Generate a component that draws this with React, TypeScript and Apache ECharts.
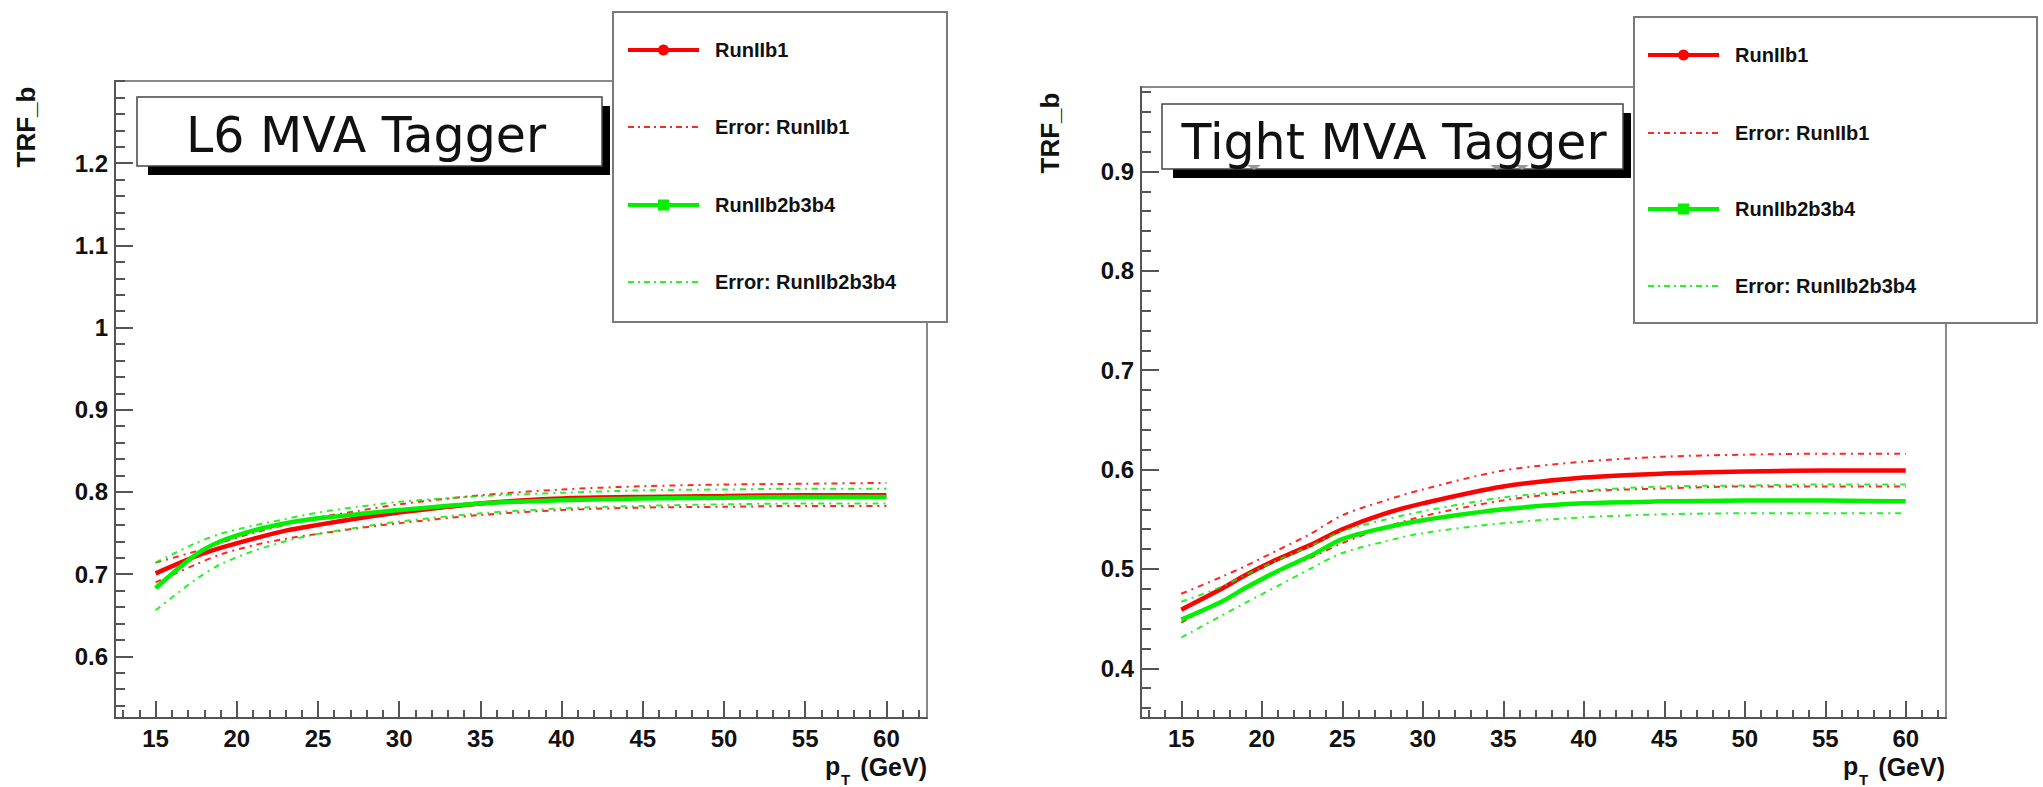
import React, { useEffect, useRef } from "react";
import * as echarts from "echarts";

// ---------- data ----------
const PT = [15, 17.5, 19, 21, 23, 25, 27.5, 30, 35, 40, 45, 50, 55, 60];

// L6 MVA Tagger
const L6_RUN1 = [0.701, 0.722, 0.732, 0.743, 0.753, 0.760, 0.768, 0.775, 0.786, 0.792, 0.794, 0.795, 0.796, 0.796];
const L6_RUN1_UP = [0.714, 0.728, 0.738, 0.750, 0.760, 0.769, 0.777, 0.785, 0.796, 0.803, 0.807, 0.809, 0.810, 0.811];
const L6_RUN1_LO = [0.690, 0.712, 0.724, 0.735, 0.743, 0.749, 0.756, 0.762, 0.772, 0.778, 0.781, 0.782, 0.783, 0.783];
const L6_RUN234 = [0.683, 0.724, 0.740, 0.753, 0.762, 0.768, 0.773, 0.778, 0.786, 0.790, 0.792, 0.793, 0.794, 0.794];
const L6_RUN234_UP = [0.714, 0.738, 0.749, 0.759, 0.767, 0.775, 0.782, 0.788, 0.795, 0.799, 0.802, 0.803, 0.804, 0.804];
const L6_RUN234_LO = [0.656, 0.694, 0.712, 0.728, 0.740, 0.749, 0.757, 0.764, 0.774, 0.780, 0.783, 0.785, 0.786, 0.786];

// Tight MVA Tagger
const TI_RUN1 = [0.459, 0.480, 0.494, 0.510, 0.524, 0.540, 0.555, 0.566, 0.583, 0.592, 0.596, 0.598, 0.599, 0.599];
const TI_RUN1_UP = [0.475, 0.492, 0.503, 0.519, 0.535, 0.554, 0.568, 0.580, 0.599, 0.608, 0.613, 0.615, 0.616, 0.616];
const TI_RUN1_LO = [0.446, 0.468, 0.482, 0.498, 0.511, 0.526, 0.541, 0.553, 0.569, 0.578, 0.581, 0.583, 0.583, 0.583];
const TI_RUN234 = [0.449, 0.467, 0.481, 0.498, 0.513, 0.530, 0.541, 0.549, 0.560, 0.566, 0.568, 0.569, 0.569, 0.568];
const TI_RUN234_UP = [0.467, 0.482, 0.494, 0.509, 0.523, 0.538, 0.549, 0.558, 0.572, 0.579, 0.583, 0.584, 0.585, 0.585];
const TI_RUN234_LO = [0.431, 0.453, 0.466, 0.483, 0.500, 0.516, 0.527, 0.536, 0.546, 0.552, 0.555, 0.556, 0.556, 0.556];

const X_MAJOR = [15, 20, 25, 30, 35, 40, 45, 50, 55, 60];
const X_MINOR = [13, 14, 16, 17, 18, 19, 21, 22, 23, 24, 26, 27, 28, 29, 31, 32, 33, 34, 36, 37, 38, 39, 41, 42, 43, 44, 46, 47, 48, 49, 51, 52, 53, 54, 56, 57, 58, 59, 61, 62];
const L6_Y_MAJOR = [0.6, 0.7, 0.8, 0.9, 1.0, 1.1, 1.2];
const TI_Y_MAJOR = [0.4, 0.5, 0.6, 0.7, 0.8, 0.9];

const LEGEND_NAMES = ["RunIIb1", "Error: RunIIb1", "RunIIb2b3b4", "Error: RunIIb2b3b4"];
const TITLES = ["L6 MVA Tagger", "Tight MVA Tagger"];
const Y_TITLE = "TRF_b";

const RED = "#ff0000";
const GREEN = "#00f000";

function minorY(min: number, max: number, majors: number[]) {
  const out: number[] = [];
  for (let k = Math.ceil(min / 0.02 - 1e-6); k * 0.02 <= max + 1e-9; k++) {
    const v = +(k * 0.02).toFixed(2);
    if (!majors.some((m) => Math.abs(m - v) < 1e-6)) out.push(v);
  }
  return out;
}

const pairs = (ys: number[]) => PT.map((x, i) => [x, ys[i]]);

const LABEL_FONT = '"Liberation Sans", Arial, sans-serif';

export default function App() {
  const ref = useRef<HTMLDivElement>(null);
  useEffect(() => {
    document.body.style.margin = "0";
    const chart = echarts.init(ref.current!, null, { renderer: "svg" });

    const panels = [
      {
        grid: { left: 115, top: 81, width: 812, height: 637 },
        ymin: 0.525, ymax: 1.3, ymajor: L6_Y_MAJOR,
        data: [L6_RUN1, L6_RUN1_UP, L6_RUN1_LO, L6_RUN234, L6_RUN234_UP, L6_RUN234_LO],
        legend: { x: 613, y: 12, w: 334, h: 310, items: [50, 127, 205, 282], l1: 628, l2: 699, tx: 715 },
        title: { x: 137, y: 97, w: 465, h: 69, text: TITLES[0], cx: 366 },
        marks: [] as number[],
        ytitle: { x: 26, y: 127 },
        xname: { p: 825, end: 927 },
      },
      {
        grid: { left: 1141, top: 87, width: 805, height: 631 },
        ymin: 0.35, ymax: 0.985, ymajor: TI_Y_MAJOR,
        data: [TI_RUN1, TI_RUN1_UP, TI_RUN1_LO, TI_RUN234, TI_RUN234_UP, TI_RUN234_LO],
        legend: { x: 1634, y: 17, w: 403, h: 306, items: [55, 133, 209, 286], l1: 1648, l2: 1719, tx: 1735 },
        title: { x: 1162, y: 104, w: 461, h: 65, text: TITLES[1], cx: 1394 },
        marks: [1254, 1497, 1522],
        ytitle: { x: 1050, y: 133 },
        xname: { p: 1843, end: 1945 },
      },
    ];

    const grids: any[] = [];
    const xAxes: any[] = [];
    const yAxes: any[] = [];
    const series: any[] = [];
    const graphics: any[] = [];

    panels.forEach((p, gi) => {
      grids.push({ ...p.grid, show: true, borderColor: "#8a8a8a", borderWidth: 2, backgroundColor: "transparent" });
      const lab = { fontFamily: LABEL_FONT, fontWeight: "bold", fontSize: 24, color: "#111" };
      xAxes.push({
        type: "value", gridIndex: gi, min: 12.5, max: 62.5, position: "bottom", offset: 0,
        axisLine: { show: true, lineStyle: { color: "#555", width: 2 } },
        axisTick: { show: true, inside: true, length: 17, customValues: X_MAJOR, lineStyle: { color: "#555", width: 2 } },
        axisLabel: { show: true, customValues: X_MAJOR, margin: 8, ...lab },
        splitLine: { show: false },
      });
      xAxes.push({
        type: "value", gridIndex: gi, min: 12.5, max: 62.5, position: "bottom", offset: 0,
        axisLine: { show: false },
        axisTick: { show: true, inside: true, length: 8, customValues: X_MINOR, lineStyle: { color: "#555", width: 2 } },
        axisLabel: { show: false },
        splitLine: { show: false },
      });
      yAxes.push({
        type: "value", gridIndex: gi, min: p.ymin, max: p.ymax, position: "left", offset: 0,
        axisLine: { show: true, lineStyle: { color: "#555", width: 2 } },
        axisTick: { show: true, inside: true, length: 18, customValues: p.ymajor, lineStyle: { color: "#555", width: 2 } },
        axisLabel: {
          show: true, customValues: p.ymajor, margin: 7, ...lab,
          formatter: (v: number) => String(+v.toFixed(2)),
        },
        splitLine: { show: false },
      });
      yAxes.push({
        type: "value", gridIndex: gi, min: p.ymin, max: p.ymax, position: "left", offset: 0,
        axisLine: { show: false },
        axisTick: { show: true, inside: true, length: 10, customValues: minorY(p.ymin, p.ymax, p.ymajor), lineStyle: { color: "#555", width: 2 } },
        axisLabel: { show: false },
        splitLine: { show: false },
      });

      const colors = [RED, RED, RED, GREEN, GREEN, GREEN];
      const names = [LEGEND_NAMES[0], LEGEND_NAMES[1], LEGEND_NAMES[1], LEGEND_NAMES[2], LEGEND_NAMES[3], LEGEND_NAMES[3]];
      p.data.forEach((ys, si) => {
        const main = si === 0 || si === 3;
        series.push({
          type: "line",
          name: names[si],
          xAxisIndex: gi * 2,
          yAxisIndex: gi * 2,
          data: pairs(ys),
          showSymbol: false,
          smooth: 0.3,
          z: main ? 3 + si : 2 + si,
          lineStyle: main
            ? { color: colors[si], width: 4.5 }
            : { color: colors[si], width: 2, type: [6, 5, 2, 5], opacity: 0.85 },
          itemStyle: { color: colors[si] },
          silent: true,
        });
      });

      // title box with shadow
      const t = p.title;
      graphics.push({
        type: "rect", z: 50,
        shape: { x: t.x + 11, y: t.y + 9, width: t.w - 3, height: t.h },
        style: { fill: "#000" },
      });
      graphics.push({
        type: "rect", z: 51,
        shape: { x: t.x, y: t.y, width: t.w, height: t.h },
        style: { fill: "#fff", stroke: "#444", lineWidth: 1.5 },
      });
      p.marks.forEach((mx) => {
        graphics.push({
          type: "polygon", z: 52,
          shape: { points: [[mx - 7, t.y + t.h - 4], [mx + 7, t.y + t.h - 4], [mx, t.y + t.h + 1]] },
          style: { fill: "#999" },
        });
      });
      graphics.push({
        type: "text", z: 52, x: t.cx, y: t.y + 38,
        style: {
          text: t.text, font: '49px "DejaVu Sans", sans-serif', fill: "#111",
          align: "center", verticalAlign: "middle", textAlign: "center", textVerticalAlign: "middle",
        },
      });

      // legend box
      const L = p.legend;
      graphics.push({
        type: "rect", z: 60,
        shape: { x: L.x, y: L.y, width: L.w, height: L.h },
        style: { fill: "#fff", stroke: "#7a7a7a", lineWidth: 2 },
      });
      LEGEND_NAMES.forEach((nm, i) => {
        const y = L.items[i];
        const col = i < 2 ? RED : GREEN;
        const main = i % 2 === 0;
        graphics.push({
          type: "line", z: 61,
          shape: { x1: L.l1, y1: y, x2: L.l2, y2: y },
          style: main
            ? { stroke: col, lineWidth: 4 }
            : { stroke: col, lineWidth: 2, lineDash: [6, 4, 2, 4], opacity: 0.85 },
        });
        if (main) {
          const cx = (L.l1 + L.l2) / 2;
          if (i === 0) {
            graphics.push({ type: "circle", z: 62, shape: { cx, cy: y, r: 5.5 }, style: { fill: col } });
          } else {
            graphics.push({ type: "rect", z: 62, shape: { x: cx - 5.5, y: y - 5.5, width: 11, height: 11 }, style: { fill: col } });
          }
        }
        graphics.push({
          type: "text", z: 62, x: L.tx, y,
          style: {
            text: nm, font: `bold 20px ${LABEL_FONT}`, fill: "#111",
            align: "left", verticalAlign: "middle", textAlign: "left", textVerticalAlign: "middle",
          },
        });
      });

      // y-axis title
      graphics.push({
        type: "text", z: 40, x: p.ytitle.x, y: p.ytitle.y, rotation: Math.PI / 2,
        style: {
          text: Y_TITLE, font: `bold 26px ${LABEL_FONT}`, fill: "#111",
          align: "center", verticalAlign: "middle", textAlign: "center", textVerticalAlign: "middle",
        },
      });

      // x-axis title: p_T (GeV)
      graphics.push({
        type: "text", z: 40, x: p.xname.p, y: 766,
        style: {
          text: "p", font: `bold 25px ${LABEL_FONT}`, fill: "#111",
          align: "left", verticalAlign: "middle", textAlign: "left", textVerticalAlign: "middle",
        },
      });
      graphics.push({
        type: "text", z: 40, x: p.xname.p + 16, y: 779,
        style: {
          text: "T", font: `bold 15px ${LABEL_FONT}`, fill: "#111",
          align: "left", verticalAlign: "middle", textAlign: "left", textVerticalAlign: "middle",
        },
      });
      graphics.push({
        type: "text", z: 40, x: p.xname.end, y: 767,
        style: {
          text: "(GeV)", font: `bold 25px ${LABEL_FONT}`, fill: "#111",
          align: "right", verticalAlign: "middle", textAlign: "right", textVerticalAlign: "middle",
        },
      });
    });

    chart.setOption({
      animation: false,
      backgroundColor: "#fff",
      grid: grids,
      xAxis: xAxes,
      yAxis: yAxes,
      series,
      graphic: graphics,
    });

    return () => chart.dispose();
  }, []);

  return (
    <div
      ref={ref}
      style={{ position: "fixed", left: 0, top: 0, width: 2043, height: 787, background: "#fff" }}
    />
  );
}
